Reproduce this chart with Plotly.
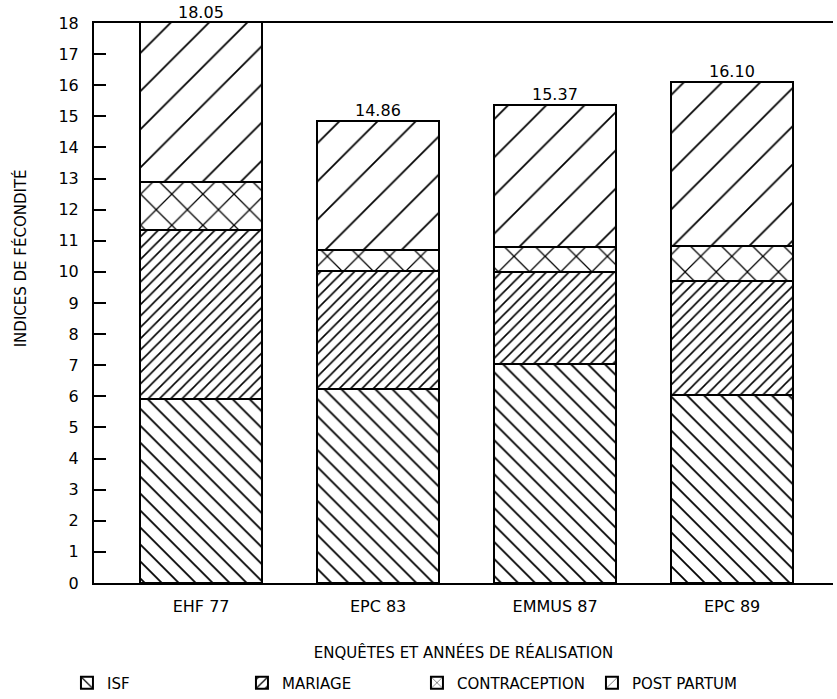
import plotly.graph_objects as go

categories = ["EHF 77", "EPC 83", "EMMUS 87", "EPC 89"]
isf = [5.93, 6.22, 7.04, 6.04]
mariage = [5.41, 3.82, 2.95, 3.68]
contraception = [1.56, 0.66, 0.80, 1.11]
post_partum = [5.15, 4.16, 4.58, 5.27]
totals = [18.05, 14.86, 15.37, 16.10]
total_labels = ["18.05", "14.86", "15.37", "16.10"]
y_ticks = list(range(0, 19))

FONT = "DejaVu Sans"

series = [
    ("ISF", isf, "\\", 12, 0.15),
    ("MARIAGE", mariage, "/", 8, 0.2),
    ("CONTRACEPTION", contraception, "x", 22, 0.11),
    ("POST PARTUM", post_partum, "/", 27, 0.065),
]

fig = go.Figure()
for name, vals, shape, size, sol in series:
    fig.add_trace(go.Bar(
        x=categories, y=vals, name=name,
        marker=dict(
            color="white",
            line=dict(color="black", width=2),
            pattern=dict(shape=shape, size=size, solidity=sol,
                         fgcolor="black", fgopacity=1, bgcolor="white",
                         fillmode="overlay"),
        ),
    ))

for c, t, lab in zip(categories, totals, total_labels):
    fig.add_annotation(x=c, y=min(t, 18), text=lab, showarrow=False,
                       yanchor="bottom", yshift=0, borderpad=0,
                       font=dict(family=FONT, size=16, color="black"))

fig.add_annotation(xref="paper", yref="paper", x=-0.1, xanchor="center",
                   y=0.58, text="INDICES DE FÉCONDITÉ", textangle=-90,
                   showarrow=False, font=dict(family=FONT, size=15, color="black"))

fig.update_layout(
    width=837, height=699,
    margin=dict(l=94, r=4, t=23, b=116, autoexpand=False),
    barmode="stack", bargap=0.31,
    plot_bgcolor="white", paper_bgcolor="white",
    font=dict(family=FONT, color="black"),
    showlegend=True,
    legend=dict(orientation="h", xref="container", x=0.08, xanchor="left",
                yref="container", y=0.023, yanchor="middle",
                entrywidth=130, entrywidthmode="pixels",
                font=dict(family=FONT, size=15, color="black"),
                traceorder="normal", itemclick=False),
    xaxis=dict(
        range=[-0.605, 3.57], showline=True, linecolor="black", linewidth=2,
        mirror=True, ticks="", showgrid=False,
        tickfont=dict(family=FONT, size=16, color="black"),
        ticklabelstandoff=8,
        title=dict(text="ENQUÊTES ET ANNÉES DE RÉALISATION",
                   font=dict(family=FONT, size=15, color="black"), standoff=32),
    ),
    yaxis=dict(
        range=[0, 18], tickvals=y_ticks, ticktext=[str(v) for v in y_ticks],
        showline=True, linecolor="black", linewidth=2,
        ticks="inside", ticklen=12, tickwidth=2, tickcolor="black",
        showgrid=False, zeroline=False,
        tickfont=dict(family=FONT, size=16, color="black"),
        ticklabelstandoff=10,
    ),
)

fig.write_html("out.html", config={"displayModeBar": False},
               post_script="document.body.style.margin='0';")
